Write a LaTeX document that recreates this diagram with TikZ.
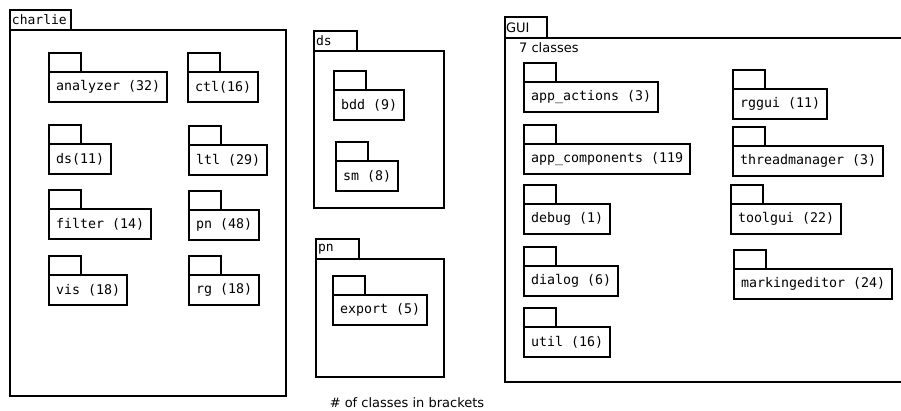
\documentclass[tikz,border=0pt]{standalone}
\usepackage{fontspec}
\setmainfont{DejaVu Sans}
\newfontfamily\monofont{DejaVu Sans Mono}
\usetikzlibrary{positioning}

\begin{document}
\begin{tikzpicture}[x=1pt, y=-1pt,
    frame/.style={rectangle, draw, line width=1.6pt, outer sep=0pt, inner sep=0pt, anchor=north west},
    ftab/.style={rectangle, draw, line width=1.6pt, outer sep=0pt, anchor=south west,
                 inner xsep=2pt, inner ysep=0pt, text width=39pt, minimum height=20pt,
                 font=\monofont\fontsize{13}{13}\selectfont},
    pkg/.style={rectangle, draw, line width=1.6pt, outer sep=0pt, anchor=north west,
                inner xsep=7pt, minimum height=30pt, font=\monofont\fontsize{13.3}{14}\selectfont},
    tab/.style={rectangle, draw, line width=1.6pt, outer sep=0pt, anchor=south west,
                minimum width=32pt, minimum height=19pt, inner sep=0pt}
]
\useasboundingbox (0,0) rectangle (901,411);
\clip (0,0) rectangle (901,411);

% charlie
\node[frame, minimum width=276pt, minimum height=366pt] (charlie) at (10,30) {};
\node[ftab, text width=57pt] (charlie-tab) at (charlie.north west) {charlie};
\node[pkg] (analyzer) at (49,72)  {analyzer (32)};
\node[pkg] (ctl)      at (188,72) {ctl(16)};
\node[pkg] (c-ds)     at (49,144) {ds(11)};
\node[pkg] (ltl)      at (189,145) {ltl (29)};
\node[pkg] (filter)   at (49,209) {filter (14)};
\node[pkg] (c-pn)     at (189,210) {pn (48)};
\node[pkg] (vis)      at (49,275) {vis (18)};
\node[pkg] (rg)       at (189,275) {rg (18)};

% ds
\node[frame, minimum width=130pt, minimum height=157pt] (ds) at (314,51) {};
\node[ftab] (ds-tab) at (ds.north west) {ds};
\node[pkg] (bdd) at (334,90)  {bdd (9)};
\node[pkg] (sm)  at (336,161) {sm (8)};

% pn
\node[frame, minimum width=128pt, minimum height=118pt] (pn) at (316,259) {};
\node[ftab] (pn-tab) at (pn.north west) {pn};
\node[pkg] (export) at (333,295) {export (5)};

% GUI
\node[frame, minimum width=420pt, minimum height=344pt] (gui) at (505,38) {};
\node[ftab, text width=40pt, minimum height=21pt, inner xsep=1pt,
      font=\fontsize{13}{13}\selectfont] (gui-tab) at (gui.north west) {GUI};
\node[anchor=west, inner sep=0pt, font=\fontsize{13}{13}\selectfont] (gui-count) at (519,48) {7 classes};
\node[pkg] (app-actions)    at (524,82)  {app\_actions (3)};
\node[pkg] (app-components) at (524,144) {app\_components (119};
\node[pkg] (debug)          at (524,204) {debug (1)};
\node[pkg] (dialog)         at (524,266) {dialog (6)};
\node[pkg] (util)           at (524,327) {util (16)};
\node[pkg] (rggui)          at (733,89)  {rggui (11)};
\node[pkg] (threadmanager)  at (733,146) {threadmanager (3)};
\node[pkg] (toolgui)        at (731,204) {toolgui (22)};
\node[pkg] (markingeditor)  at (734,269) {markingeditor (24)};

% folder tabs
\foreach \p in {analyzer, ctl, c-ds, ltl, filter, c-pn, vis, rg, bdd, sm, export,
                app-actions, app-components, debug, dialog, util,
                rggui, threadmanager, toolgui, markingeditor}
  \node[tab] (\p-tab) at (\p.north west) {};

% note
\node[font=\fontsize{13}{13}\selectfont] (note) at (407,403) {\# of classes in brackets};

\end{tikzpicture}
\end{document}
